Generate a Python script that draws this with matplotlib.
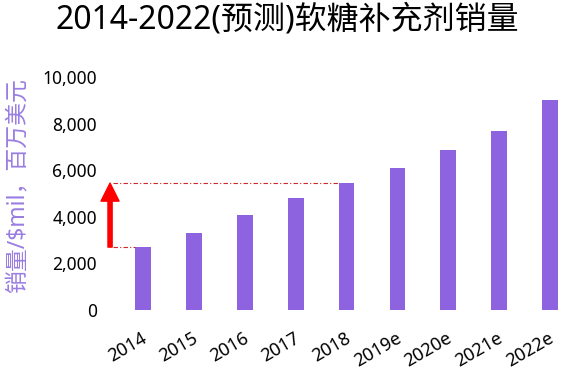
import matplotlib
matplotlib.use('Agg')
import matplotlib.pyplot as plt
import matplotlib.transforms as mtransforms

# Données
annees = ['2014', '2015', '2016', '2017', '2018', '2019e', '2020e', '2021e', '2022e']
ventes = [2700, 3300, 4100, 4800, 5450, 6100, 6850, 7700, 9000]
graduations_y = [0, 2000, 4000, 6000, 8000, 10000]

titre = '2014-2022(预测)软糖补充剂销量'
etiquette_y = '销量/$mil，百万美元'

plt.rcParams['font.family'] = ['Noto Sans', 'Noto Sans CJK SC', 'DejaVu Sans']

couleur_barre = '#8e63e0'
couleur_texte_y = '#9a7de2'

fig = plt.figure(figsize=(5.74, 3.72), dpi=100)
ax = fig.add_axes([0.174, 0.1667, 0.824, 0.626])

positions = list(range(len(annees)))
largeur = 0.31
ax.bar(positions, ventes, width=largeur, color=couleur_barre)

# Flèche de croissance entre 2014 et 2018
x_fleche = -0.65
ax.annotate('', xy=(x_fleche, ventes[4]), xytext=(x_fleche, ventes[0]),
            arrowprops=dict(color='red', width=3, headwidth=13,
                            headlength=13, shrink=0))
ax.hlines(ventes[0], x_fleche + 0.05, positions[0] - largeur / 2,
          colors='#d02828', linestyles=(0, (4, 2, 1, 2)), linewidth=0.8)
ax.hlines(ventes[4], x_fleche + 0.05, positions[4] - largeur / 2,
          colors='#d02828', linestyles=(0, (4, 2, 1, 2)), linewidth=0.8)

# Axes
ax.set_xlim(-0.85, 8.45)
ax.set_ylim(0, 10000)
ax.set_yticks(graduations_y)
ax.set_yticklabels([f'{v:,}' for v in graduations_y], fontsize=12.5)
ax.set_xticks(positions)
ax.set_xticklabels(annees, fontsize=13, rotation=30, ha='right')
ax.tick_params(axis='both', length=0)
ax.tick_params(axis='x', pad=14)
ax.tick_params(axis='y', pad=2)
decalage = mtransforms.ScaledTranslation(7 / 100, 0, fig.dpi_scale_trans)
for etiquette in ax.get_xticklabels():
    etiquette.set_transform(etiquette.get_transform() + decalage)
for cote in ax.spines.values():
    cote.set_visible(False)

ax.set_ylabel(etiquette_y, fontsize=16.5, color=couleur_texte_y, labelpad=9, y=0.535)

fig.suptitle(titre, fontsize=23, y=0.99)

fig.savefig('out.png', dpi=100)
